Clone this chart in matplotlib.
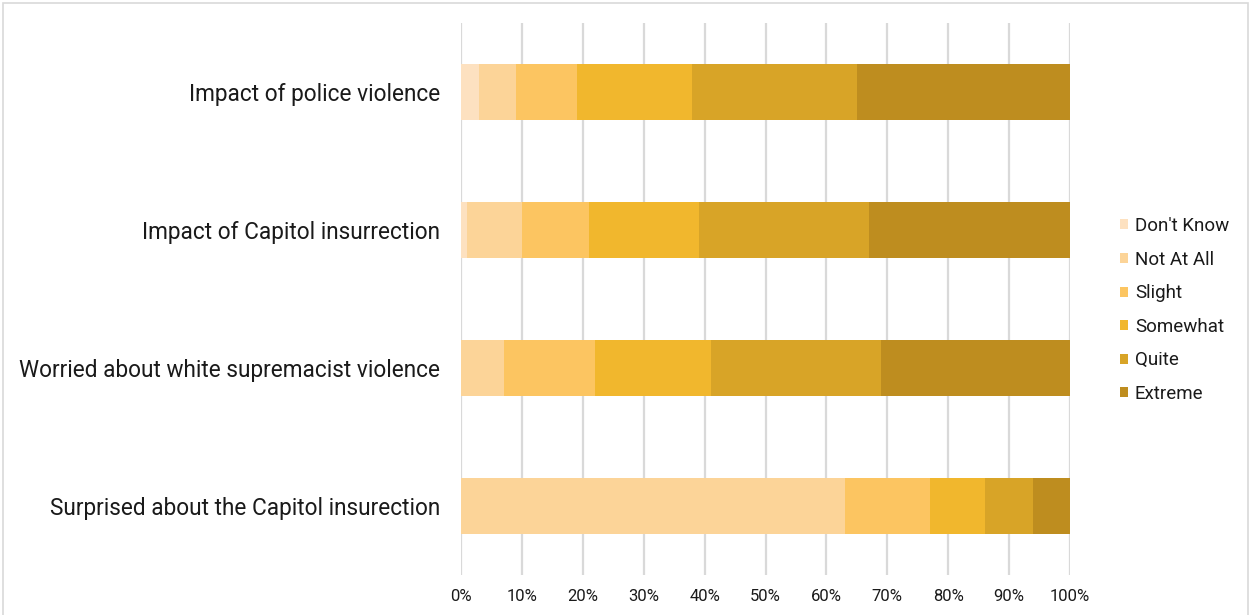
import matplotlib
matplotlib.use("Agg")
import matplotlib.pyplot as plt
from matplotlib.patches import Rectangle, Patch
import numpy as np

plt.rcParams['font.family'] = ['Roboto', 'DejaVu Sans']

questions = [
    "Impact of police violence",
    "Impact of Capitol insurrection",
    "Worried about white supremacist violence",
    "Surprised about the Capitol insurection",
]
levels = ["Don't Know", "Not At All", "Slight", "Somewhat", "Quite", "Extreme"]
colors = ["#fde1c0", "#fcd498", "#fcc561", "#f1b72d", "#d8a427", "#be8d1f"]

# percent per level, one list per question (top to bottom)
dont_know = [3, 1, 0, 0]
not_at_all = [6, 9, 7, 63]
slight = [10, 11, 15, 14]
somewhat = [19, 18, 19, 9]
quite = [27, 28, 28, 8]
extreme = [35, 33, 31, 6]
series = [dont_know, not_at_all, slight, somewhat, quite, extreme]

fig = plt.figure(figsize=(12.49, 6.15), dpi=100)
ax = fig.add_axes([461 / 1249, 1 - 575 / 615, (1070 - 461) / 1249, (575 - 23) / 615])

y = np.arange(len(questions))
left = np.zeros(len(questions))
for name, vals, c in zip(levels, series, colors):
    vals = np.array(vals, dtype=float)
    ax.barh(y, vals, left=left, height=0.4, color=c, label=name, zorder=3)
    left += vals

ax.set_xlim(0, 100)
ax.set_ylim(3.5, -0.5)
ax.set_xticks(np.arange(0, 101, 10))
ax.set_xticklabels([f"{v}%" for v in range(0, 101, 10)], fontsize=12, color="#1a1a1a")
ax.set_yticks(y)
ax.set_yticklabels(questions, fontsize=16.3, color="#1a1a1a", va='center_baseline')
ax.tick_params(axis='both', length=0)
ax.tick_params(axis='x', pad=10)
ax.tick_params(axis='y', pad=15)
ax.grid(axis='x', color="#d9d9d9", linewidth=1.6, zorder=0)
for s in ax.spines.values():
    s.set_visible(False)

handles = [Patch(facecolor=c, edgecolor='none') for c in colors]
fig.legend(handles, levels, loc='center left', bbox_to_anchor=(1103 / 1249, 1 - 310 / 615),
           frameon=False, fontsize=13.5, handlelength=0.45, handleheight=0.45,
           handletextpad=0.35, labelspacing=0.83, labelcolor="#1a1a1a")

fig.patches.append(Rectangle((3 / 1249, -0.01), 1 - 4 / 1249, 1 - 3 / 615 + 0.01,
                             transform=fig.transFigure, fill=False,
                             edgecolor="#d9d9d9", linewidth=1.2))

fig.savefig("out.png", dpi=100, facecolor="white")
